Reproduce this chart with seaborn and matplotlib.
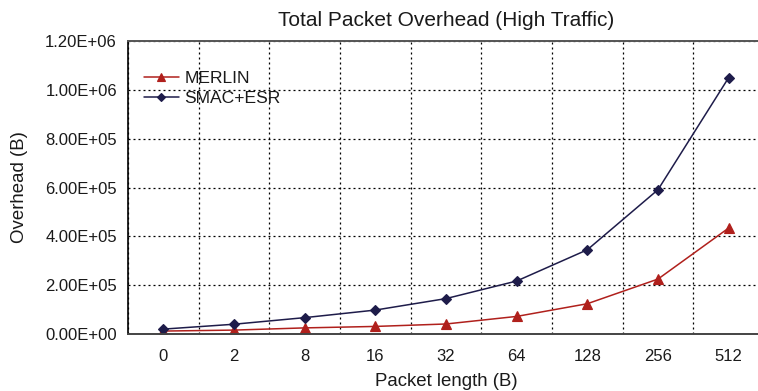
import pandas as pd
import seaborn as sns
import matplotlib.pyplot as plt
from matplotlib.ticker import FuncFormatter, FixedLocator

# Data
lengths = ["0", "2", "8", "16", "32", "64", "128", "256", "512"]
merlin = [1.2e4, 1.6e4, 2.5e4, 3.1e4, 4.1e4, 7.2e4, 1.24e5, 2.25e5, 4.34e5]
smac_esr = [2.0e4, 4.0e4, 6.7e4, 9.8e4, 1.45e5, 2.17e5, 3.45e5, 5.91e5, 1.05e6]

df = pd.concat([
    pd.DataFrame({"length": lengths, "overhead": merlin, "protocol": "MERLIN"}),
    pd.DataFrame({"length": lengths, "overhead": smac_esr, "protocol": "SMAC+ESR"}),
])

sns.set_style("white")
plt.rcParams["font.family"] = ["Liberation Sans", "DejaVu Sans"]
plt.rcParams["text.color"] = "#1a1a1a"
plt.rcParams["axes.labelcolor"] = "#1a1a1a"
plt.rcParams["xtick.labelcolor"] = "#1a1a1a"
plt.rcParams["ytick.labelcolor"] = "#1a1a1a"

fig = plt.figure(figsize=(7.58, 3.91), dpi=100)
ax = fig.add_axes([128 / 758, 1 - 334 / 391, (764 - 128) / 758, (334 - 41) / 391])

palette = {"MERLIN": "#b0201c", "SMAC+ESR": "#1e1c4a"}
sns.pointplot(data=df, x="length", y="overhead", hue="protocol", order=lengths,
              palette=palette, markers=["^", "D"], errorbar=None,
              linewidth=1.1, markersize=6, ax=ax)

# triangles a bit bigger than diamonds, as in the original
for line in ax.lines:
    if line.get_marker() == "^":
        line.set_markersize(7.5)
    elif line.get_marker() == "D":
        line.set_markersize(5)

ax.set_ylim(0, 1.2e6)
ax.set_xlim(-0.5, 8.5)
ax.set_yticks([i * 2e5 for i in range(7)])
ax.yaxis.set_major_formatter(FuncFormatter(lambda v, p: f"{v:.2E}"))

# vertical grid lines sit between categories
ax.xaxis.set_minor_locator(FixedLocator([i + 0.5 for i in range(-1, 9)]))
ax.tick_params(axis="x", which="major", length=0, pad=11, labelsize=12)
ax.tick_params(axis="x", which="minor", length=5, width=1, color="#333333", direction="out")
ax.tick_params(axis="y", which="major", length=5, width=1, color="#333333", direction="out",
               labelsize=12, pad=3)
dots = (0, (1.6, 2.4))
ax.grid(axis="y", which="major", color="black", linestyle=dots, linewidth=0.9)
ax.grid(axis="x", which="minor", color="black", linestyle=dots, linewidth=0.9)
ax.set_axisbelow(True)

ax.spines["left"].set_color("black")
ax.spines["left"].set_linewidth(1.2)
ax.spines["bottom"].set_color("#444444")
ax.spines["bottom"].set_linewidth(1.4)
ax.spines["top"].set_color("#555555")
ax.spines["top"].set_linewidth(1.4)
ax.spines["right"].set_visible(False)

ax.set_title("Total Packet Overhead (High Traffic)", fontsize=15, pad=11)
ax.set_xlabel("Packet length (B)", fontsize=13.4, labelpad=6)
ax.set_ylabel("Overhead (B)", fontsize=13.4, labelpad=12)

handles, labels = ax.get_legend_handles_labels()
for h in handles:
    if hasattr(h, "set_markersize"):
        h.set_markersize(5.5 if h.get_marker() == "^" else 4.5)
leg = ax.legend(handles, labels, loc="upper left", bbox_to_anchor=(0.025, 0.897),
                frameon=False, fontsize=12.6, handlelength=2.0, handletextpad=0.3,
                labelspacing=0.25, borderaxespad=0, borderpad=0)

fig.savefig("out.png", dpi=100)
